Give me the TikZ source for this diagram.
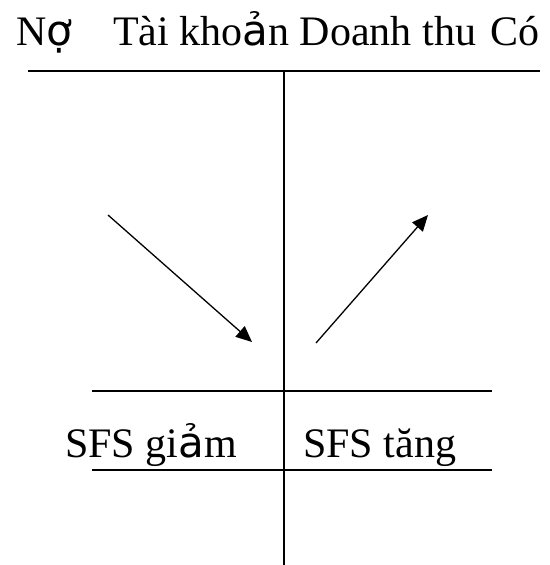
\documentclass[tikz,border=0pt]{standalone}
\usepackage{fontspec}
\setmainfont{Liberation Serif}
\newfontfamily\dv{DejaVu Sans}
\usetikzlibrary{arrows.meta}
\begin{document}
\begin{tikzpicture}[x=1pt,y=-1pt,
  rule/.style={line width=2pt},
  arr/.style={line width=1.3pt,-{Triangle[length=16pt,width=14pt]}},
  lbl/.style={inner sep=0pt,anchor=base west,font=\fontsize{42}{46}\selectfont}]
\useasboundingbox (0,0) rectangle (549,565);
% title
\node[lbl] (no) at (16,45) {N{\dv ợ}};
\node[lbl] (acct) at (113,45) {Tài kho{\dv ả}n Doanh thu};
\node[lbl] (co) at (490,45) {Có};
% T-account lines
\coordinate (tl) at (28,70.7);
\coordinate (tr) at (540,70.7);
\coordinate (vt) at (284,70.7);
\coordinate (vb) at (284,566);
\coordinate (ml) at (92,391);
\coordinate (mr) at (492,391);
\coordinate (bl) at (92,470);
\coordinate (br) at (492,470);
\draw[rule] (tl) -- (tr);
\draw[rule] (vt) -- (vb);
\draw[rule] (ml) -- (mr);
\draw[rule] (bl) -- (br);
% arrows
\coordinate (a1s) at (108,215);
\coordinate (a1e) at (252,342);
\coordinate (a2s) at (316,343);
\coordinate (a2e) at (428,215);
\draw[arr] (a1s) -- (a1e);
\draw[arr] (a2s) -- (a2e);
% bottom labels
\node[lbl] (giam) at (65,457) {SFS gi{\dv ả}m};
\node[lbl] (tang) at (303,457) {SFS tăng};
\end{tikzpicture}
\end{document}
